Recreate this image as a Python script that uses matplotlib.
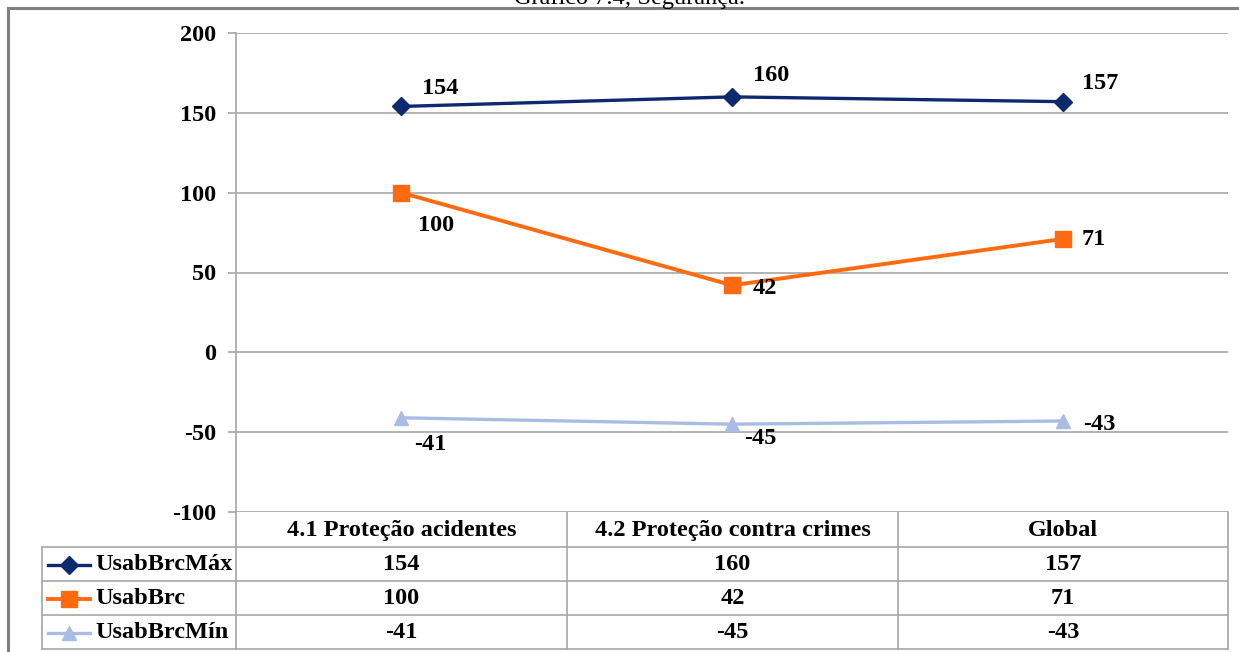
import matplotlib.pyplot as plt
from matplotlib.lines import Line2D

categories = ['4.1 Proteção acidentes', '4.2 Proteção contra crimes', 'Global']
series_names = ['UsabBrcMáx', 'UsabBrc', 'UsabBrcMín']
usab_max = [154, 160, 157]
usab_brc = [100, 42, 71]
usab_min = [-41, -45, -43]
y_ticks = [-100, -50, 0, 50, 100, 150, 200]
title = 'Gráfico 7.4; Segurança.'

series = [usab_max, usab_brc, usab_min]
colors = ['#0E2A6E', '#FF6A10', '#A9BDE4']
markers = ['D', 's', '^']
msizes = [9.5, 11.5, 10.5]
lwidths = [2.4, 2.8, 2.4]
# label offsets in pixels (dx, dy) for each point
label_offsets = [
    [(39, 18), (39, 21), (38, 18)],
    [(35, -33), (33, -3), (31, -1)],
    [(29, -27), (28, -14), (37, -4)],
]

plt.rcParams['font.family'] = 'Liberation Serif'
plt.rcParams['font.weight'] = 'bold'
FS = 17.5
GRID = '#A6A6A6'

W, H = 1239, 652
fig = plt.figure(figsize=(W / 100, H / 100), dpi=100)

# plot area in pixels
x0, x1, ytop, ybot = 236, 1228, 33, 512
ax = fig.add_axes([x0 / W, 1 - ybot / H, (x1 - x0) / W, (ybot - ytop) / H])
xs = list(range(len(categories)))
for vals, c, m, ms, lw, offs in zip(series, colors, markers, msizes, lwidths, label_offsets):
    ax.plot(xs, vals, color=c, lw=lw, marker=m, ms=ms, clip_on=False, zorder=3)
    for x, v, (dx, dy) in zip(xs, vals, offs):
        ax.annotate(str(v), (x, v), xytext=(dx, dy), textcoords='offset pixels',
                    ha='center', va='center', fontsize=FS, fontweight='bold')

ax.set_xlim(-0.5, len(categories) - 0.5)
ax.set_ylim(min(y_ticks), max(y_ticks))
ax.set_yticks(y_ticks)
ax.set_yticklabels([str(t) for t in y_ticks], fontsize=FS, fontweight='bold')
ax.set_xticks([])
ax.grid(axis='y', color=GRID, lw=1.2)
for s in ['top', 'right', 'bottom']:
    ax.spines[s].set_visible(False)
ax.spines['left'].set_color(GRID)
ax.spines['left'].set_linewidth(1.2)
ax.tick_params(axis='y', length=5.5, width=1.2, color=GRID, pad=9)

# overlay in pixel coords for table and frame
ov = fig.add_axes([0, 0, 1, 1], zorder=-1)
ov.set_xlim(0, W)
ov.set_ylim(H, 0)
ov.axis('off')

# outer frame (left and top visible)
ov.plot([8, 8], [8, H + 5], color='#808080', lw=2.2)
ov.plot([8, W + 5], [8, 8], color='#808080', lw=2.2)

fig.text(630 / W, 1 - 4 / H, title, ha='center', va='baseline',
         fontsize=FS, fontweight='normal')

# data table
col_edges = [236, 567, 898, 1228]
row_edges = [512, 547, 581, 615, 649]
lab_left = 42
tl = dict(color=GRID, lw=1.2)
for xe in col_edges:
    ov.plot([xe, xe], [row_edges[0], row_edges[-1]], **tl)
ov.plot([lab_left, lab_left], [row_edges[1], row_edges[-1]], **tl)
for ye in row_edges[1:]:
    ov.plot([lab_left, col_edges[-1]], [ye, ye], **tl)

for j, cat in enumerate(categories):
    cx = (col_edges[j] + col_edges[j + 1]) / 2
    ov.text(cx, (row_edges[0] + row_edges[1]) / 2 + 1, cat, ha='center', va='center',
            fontsize=FS, fontweight='bold')

for i, (name, vals, c, m, ms, lw) in enumerate(zip(series_names, series, colors, markers, msizes, lwidths)):
    cy = (row_edges[i + 1] + row_edges[i + 2]) / 2 + 1
    ov.add_line(Line2D([48, 90], [cy, cy], color=c, lw=lw))
    ov.plot([69], [cy], marker=m, color=c, ms=ms)
    ov.text(95, cy, name, ha='left', va='center', fontsize=FS, fontweight='bold')
    for j, v in enumerate(vals):
        cx = (col_edges[j] + col_edges[j + 1]) / 2
        ov.text(cx, cy, str(v), ha='center', va='center', fontsize=FS, fontweight='bold')

fig.savefig('out.png', dpi=100)
